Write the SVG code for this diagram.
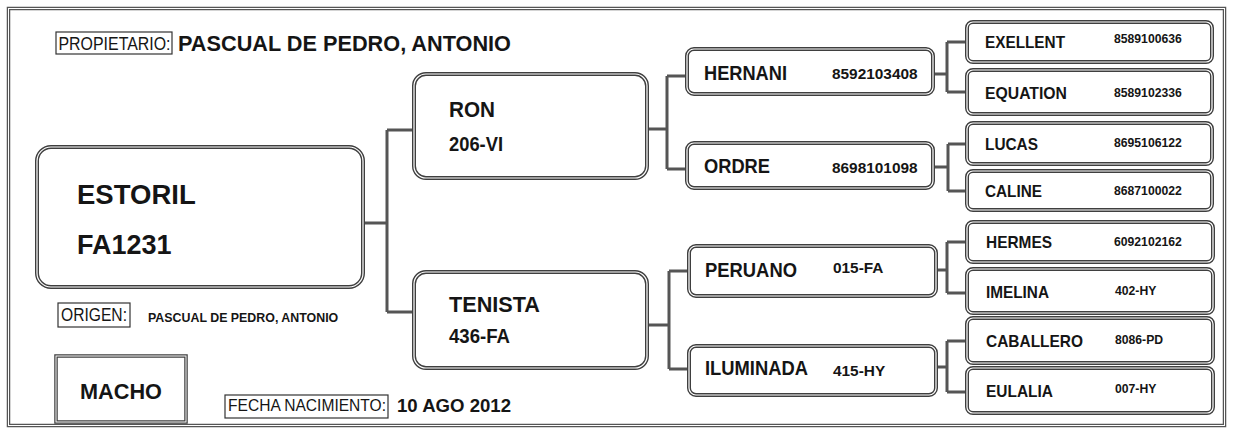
<svg xmlns="http://www.w3.org/2000/svg" width="1234" height="430" viewBox="0 0 1234 430">
<style>
.dbl{fill:none;stroke:#3f3f3f;stroke-width:4}
.dbi{fill:none;stroke:#ffffff;stroke-width:1.2}
.lbl{fill:#fff;stroke:#333;stroke-width:1.2}
.con{fill:none;stroke:#555;stroke-width:3;stroke-linejoin:miter}
text{font-family:"Liberation Sans",Arial,Helvetica,sans-serif;fill:#151515}
.b{font-weight:bold}
.r{font-weight:normal}
</style>
<rect x="0" y="0" width="1234" height="430" fill="#fff"/>
<g id="frame">
<rect x="8.5" y="8.5" width="1216" height="417" class="dbl" style="stroke:#555;stroke-width:3.5"/>
<rect x="8.5" y="8.5" width="1216" height="417" class="dbi" style="stroke-width:1"/>
</g>
<g id="connectors">
<path class="con" d="M363 223 H387 M387 130 V312 M387 130 H414 M387 312 H414"/>
<path class="con" d="M647 129 H667 M667 76 V169 M667 76 H687 M667 169 H687"/>
<path class="con" d="M647 325 H669 M669 271 V369 M669 271 H689 M669 369 H689"/>
<path class="con" d="M933 74 H947 M947 42 V92 M947 42 H967 M947 92 H967"/>
<path class="con" d="M933 167 H948 M948 144 V191 M948 144 H967 M948 191 H967"/>
<path class="con" d="M936 270 H947 M947 242 V293 M947 242 H967 M947 293 H967"/>
<path class="con" d="M936 367 H947 M947 341 V392 M947 341 H967 M947 392 H967"/>
</g>
<g id="propietario">
<rect x="56" y="32" width="116" height="22" class="lbl"/>
<text x="58.5" y="49.5" font-size="17.5" textLength="112" lengthAdjust="spacingAndGlyphs" class="r">PROPIETARIO:</text>
<text x="178" y="51" font-size="21.7" class="b">PASCUAL DE PEDRO, ANTONIO</text>
</g>
<g id="estoril">
<rect x="37" y="147" width="326" height="140" rx="14" class="dbl"/>
<rect x="37" y="147" width="326" height="140" rx="14" class="dbi"/>
<text x="77" y="204" font-size="27.5" class="b">ESTORIL</text>
<text x="77" y="254" font-size="27" class="b">FA1231</text>
</g>
<g id="origen">
<rect x="58" y="303" width="72" height="24" class="lbl"/>
<text x="61" y="321" font-size="17.5" textLength="66" lengthAdjust="spacingAndGlyphs" class="r">ORIGEN:</text>
<text x="148" y="322" font-size="12.4" class="b">PASCUAL DE PEDRO, ANTONIO</text>
</g>
<g id="macho">
<rect x="56" y="356" width="130" height="66" class="dbl" style="stroke-width:3.5"/>
<rect x="56" y="356" width="130" height="66" class="dbi" style="stroke-width:1"/>
<text x="80" y="399" font-size="21.7" class="b">MACHO</text>
</g>
<g id="fecha">
<rect x="225" y="395" width="163" height="23" class="lbl"/>
<text x="228" y="411" font-size="16.5" textLength="158" lengthAdjust="spacingAndGlyphs" class="r">FECHA NACIMIENTO:</text>
<text x="397" y="412" font-size="18.6" class="b">10 AGO 2012</text>
</g>
<g id="ron">
<rect x="414" y="74" width="233" height="104" rx="12" class="dbl"/>
<rect x="414" y="74" width="233" height="104" rx="12" class="dbi"/>
<text x="449" y="117" font-size="22" textLength="46" lengthAdjust="spacingAndGlyphs" class="b">RON</text>
<text x="449" y="151" font-size="19.5" textLength="54" lengthAdjust="spacingAndGlyphs" class="b">206-VI</text>
</g>
<g id="tenista">
<rect x="414" y="272" width="233" height="96" rx="12" class="dbl"/>
<rect x="414" y="272" width="233" height="96" rx="12" class="dbi"/>
<text x="449" y="312" font-size="22" textLength="91" lengthAdjust="spacingAndGlyphs" class="b">TENISTA</text>
<text x="449" y="343" font-size="19.5" textLength="61" lengthAdjust="spacingAndGlyphs" class="b">436-FA</text>
</g>
<g id="hernani">
<rect x="687" y="49" width="246" height="45" rx="7" class="dbl"/>
<rect x="687" y="49" width="246" height="45" rx="7" class="dbi"/>
<text x="704" y="80" font-size="19.5" textLength="83" lengthAdjust="spacingAndGlyphs" class="b">HERNANI</text>
<text x="832" y="79" font-size="15.4" class="b">8592103408</text>
</g>
<g id="ordre">
<rect x="687" y="143" width="246" height="45" rx="7" class="dbl"/>
<rect x="687" y="143" width="246" height="45" rx="7" class="dbi"/>
<text x="704" y="173" font-size="19.5" textLength="66" lengthAdjust="spacingAndGlyphs" class="b">ORDRE</text>
<text x="832" y="173" font-size="15.4" class="b">8698101098</text>
</g>
<g id="peruano">
<rect x="689" y="246" width="247" height="50" rx="7" class="dbl"/>
<rect x="689" y="246" width="247" height="50" rx="7" class="dbi"/>
<text x="705" y="277" font-size="19.5" textLength="92" lengthAdjust="spacingAndGlyphs" class="b">PERUANO</text>
<text x="833" y="273" font-size="15.4" class="b">015-FA</text>
</g>
<g id="iluminada">
<rect x="689" y="346" width="247" height="49" rx="7" class="dbl"/>
<rect x="689" y="346" width="247" height="49" rx="7" class="dbi"/>
<text x="705" y="375" font-size="19.5" textLength="103" lengthAdjust="spacingAndGlyphs" class="b">ILUMINADA</text>
<text x="833" y="376" font-size="15.4" class="b">415-HY</text>
</g>
<g id="exellent">
<rect x="967" y="22" width="245" height="40" rx="6" class="dbl"/>
<rect x="967" y="22" width="245" height="40" rx="6" class="dbi"/>
<text x="985" y="48" font-size="17" textLength="80" lengthAdjust="spacingAndGlyphs" class="b">EXELLENT</text>
<text x="1114" y="43" font-size="12.2" class="b">8589100636</text>
</g>
<g id="equation">
<rect x="967" y="70" width="245" height="44" rx="6" class="dbl"/>
<rect x="967" y="70" width="245" height="44" rx="6" class="dbi"/>
<text x="985" y="99" font-size="17" textLength="82" lengthAdjust="spacingAndGlyphs" class="b">EQUATION</text>
<text x="1114" y="97" font-size="12.2" class="b">8589102336</text>
</g>
<g id="lucas">
<rect x="967" y="123" width="245" height="41" rx="6" class="dbl"/>
<rect x="967" y="123" width="245" height="41" rx="6" class="dbi"/>
<text x="985" y="150" font-size="17" textLength="53" lengthAdjust="spacingAndGlyphs" class="b">LUCAS</text>
<text x="1114" y="147" font-size="12.2" class="b">8695106122</text>
</g>
<g id="caline">
<rect x="967" y="171" width="245" height="39" rx="6" class="dbl"/>
<rect x="967" y="171" width="245" height="39" rx="6" class="dbi"/>
<text x="985" y="197" font-size="17" textLength="57" lengthAdjust="spacingAndGlyphs" class="b">CALINE</text>
<text x="1114" y="195" font-size="12.2" class="b">8687100022</text>
</g>
<g id="hermes">
<rect x="967" y="222" width="246" height="40" rx="6" class="dbl"/>
<rect x="967" y="222" width="246" height="40" rx="6" class="dbi"/>
<text x="986" y="248" font-size="17" textLength="66" lengthAdjust="spacingAndGlyphs" class="b">HERMES</text>
<text x="1114" y="246" font-size="12.2" class="b">6092102162</text>
</g>
<g id="imelina">
<rect x="967" y="269" width="246" height="44" rx="6" class="dbl"/>
<rect x="967" y="269" width="246" height="44" rx="6" class="dbi"/>
<text x="986" y="298" font-size="17" textLength="63" lengthAdjust="spacingAndGlyphs" class="b">IMELINA</text>
<text x="1115" y="295" font-size="12.2" class="b">402-HY</text>
</g>
<g id="caballero">
<rect x="967" y="318" width="246" height="45" rx="6" class="dbl"/>
<rect x="967" y="318" width="246" height="45" rx="6" class="dbi"/>
<text x="986" y="347" font-size="17" textLength="97" lengthAdjust="spacingAndGlyphs" class="b">CABALLERO</text>
<text x="1115" y="344" font-size="12.2" class="b">8086-PD</text>
</g>
<g id="eulalia">
<rect x="967" y="368" width="246" height="45" rx="6" class="dbl"/>
<rect x="967" y="368" width="246" height="45" rx="6" class="dbi"/>
<text x="986" y="397" font-size="17" textLength="67" lengthAdjust="spacingAndGlyphs" class="b">EULALIA</text>
<text x="1115" y="393" font-size="12.2" class="b">007-HY</text>
</g>
</svg>
